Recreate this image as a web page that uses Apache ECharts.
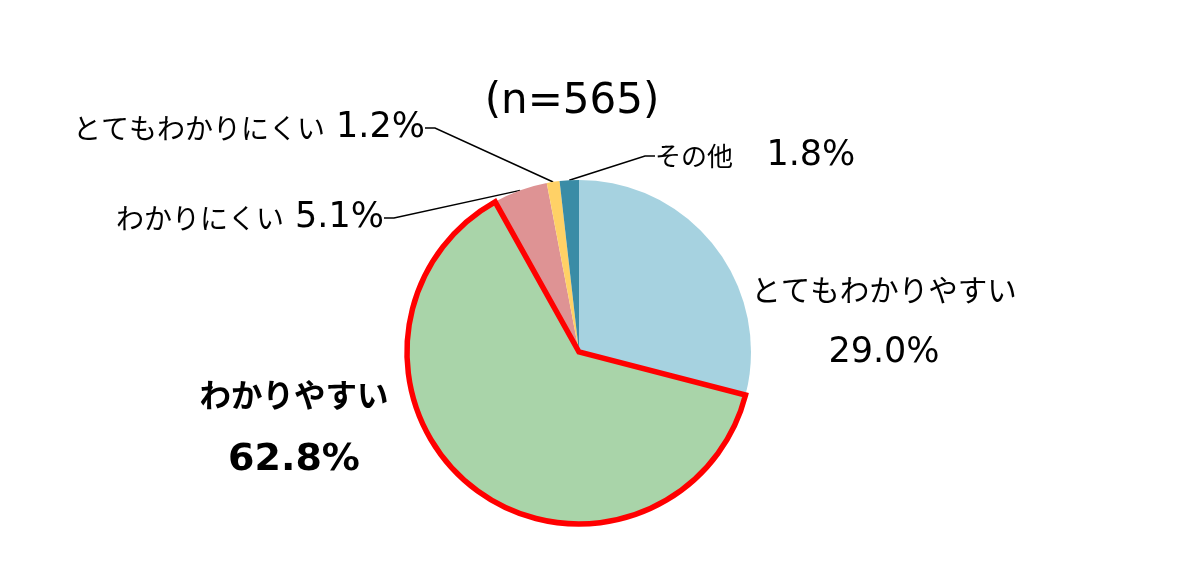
<!DOCTYPE html>
<html>
<head>
<meta charset="utf-8">
<script src="https://cdn.jsdelivr.net/npm/echarts@6/dist/echarts.min.js"></script>
<style>html,body{margin:0;padding:0;background:#fff;}#c{width:1200px;height:580px;}</style>
</head>
<body>
<div id="c"></div>
<script>
const categories = ['とてもわかりやすい', 'わかりやすい', 'わかりにくい', 'とてもわかりにくい', 'その他'];
const values = [29.0, 62.8, 5.1, 1.2, 1.8];
const colors = ['#A6D2E0', '#A9D4A9', '#DE9394', '#FFD166', '#3A8CA6'];
const titleText = '(n=565)';

const JP = '"Noto Sans CJK JP", sans-serif';
const NUM = '"DejaVu Sans", "Noto Sans CJK JP", sans-serif';
const chart = echarts.init(document.getElementById('c'));

// label placement per slice
const labelPos = [
  { x: 884, y: 321, align: 'center', verticalAlign: 'middle' },
  { x: 294, y: 428, align: 'center', verticalAlign: 'middle' },
  { x: 384, y: 218, align: 'right', verticalAlign: 'middle' },
  { x: 425, y: 128, align: 'right', verticalAlign: 'middle' },
  { x: 632, y: 156, align: 'left', verticalAlign: 'middle' }
];

const rich = {
  k: { fontFamily: JP, fontSize: 28, color: '#000' },
  ks: { fontFamily: JP, fontSize: 26, color: '#000' },
  n: { fontFamily: NUM, fontSize: 35, color: '#000' },
  k2: { fontFamily: JP, fontSize: 29.5, color: '#000', lineHeight: 63 },
  n2: { fontFamily: NUM, fontSize: 35, color: '#000', lineHeight: 63 },
  kb: { fontFamily: JP, fontSize: 31.5, fontWeight: 'bold', color: '#000', lineHeight: 65 },
  nb: { fontFamily: NUM, fontSize: 38, fontWeight: 'bold', color: '#000', lineHeight: 65 }
};

const data = categories.map((name, i) => {
  const item = { name: name, value: values[i], itemStyle: { color: colors[i] } };
  if (i === 0) {
    item.label = { formatter: p => '{k2|' + p.name + '}\n{n2|' + p.value.toFixed(1) + '%}' };
    item.labelLine = { show: false };
  } else if (i === 1) {
    item.label = { formatter: p => '{kb|' + p.name + '}\n{nb|' + p.value.toFixed(1) + '%}' };
    item.labelLine = { show: false };
  } else if (i === 4) {
    item.label = { padding: [0, 0, 0, 23], formatter: p => '{ks|' + p.name + '}{n|   ' + p.value.toFixed(1) + '%}' };
  }
  return item;
});

const overlay = categories.map((name, i) => ({
  name: name, value: values[i],
  itemStyle: i === 1 ? { color: 'rgba(0,0,0,0)', borderColor: '#FF0000', borderWidth: 5.5, borderJoin: 'miter' }
                     : { color: 'rgba(0,0,0,0)', borderWidth: 0 }
}));

chart.setOption({
  animation: false,
  title: {
    text: titleText, left: 567, top: 97, textAlign: 'center', textVerticalAlign: 'middle',
    textStyle: { fontFamily: NUM, fontSize: 42, fontWeight: 'normal', color: '#000' }
  },
  series: [{
    type: 'pie',
    center: [579, 352],
    radius: [0, 172],
    startAngle: 90,
    clockwise: true,
    data: data,
    itemStyle: { borderWidth: 0 },
    label: {
      show: true,
      color: '#000',
      rich: rich,
      formatter: p => '{k|' + p.name + '}{n| ' + p.value.toFixed(1) + '%}'
    },
    labelLine: { show: true, lineStyle: { color: '#000', width: 1.5 }, length: 10, length2: 10, smooth: false },
    labelLayout: function (params) {
      return labelPos[params.dataIndex];
    },
    emphasis: { disabled: true }
  }, {
    type: 'pie',
    center: [579, 352],
    radius: [0, 172],
    startAngle: 90,
    clockwise: true,
    silent: true,
    data: overlay,
    label: { show: false },
    labelLine: { show: false },
    emphasis: { disabled: true }
  }]
});
</script>
</body>
</html>
